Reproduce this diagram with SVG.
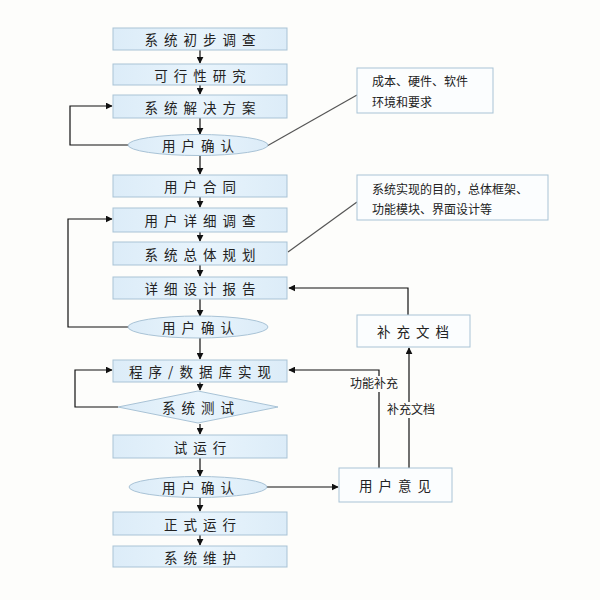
<svg xmlns="http://www.w3.org/2000/svg" width="600" height="600" viewBox="0 0 600 600">
<defs>
<linearGradient id="bg" x1="0" y1="0" x2="1" y2="0">
<stop offset="0" stop-color="#dcecf8"/><stop offset="0.5" stop-color="#e8f4fc"/><stop offset="1" stop-color="#dcecf8"/>
</linearGradient>
<marker id="ah" viewBox="0 0 10 10" refX="9" refY="5" markerWidth="7" markerHeight="7" markerUnits="userSpaceOnUse" orient="auto">
<path d="M0,0 L10,5 L0,10 z" fill="#111"/>
</marker>
</defs>
<style>
.box{fill:url(#bg);stroke:#a9c3d6;stroke-width:1}
.wbox{fill:#fbfdfe;stroke:#a9c3d6;stroke-width:1}
.t{font-family:"Noto Sans CJK SC","Noto Sans",sans-serif;font-size:13.5px;fill:#222;letter-spacing:6px;text-anchor:middle;dominant-baseline:central}
.n{font-family:"Noto Sans CJK SC","Noto Sans",sans-serif;font-size:12px;fill:#222}
.c{fill:none;stroke:#111;stroke-width:1.2}
.a{fill:none;stroke:#111;stroke-width:1.2;marker-end:url(#ah)}
.g{fill:none;stroke:#555;stroke-width:1.2}
</style>
<rect width="600" height="600" fill="#fdfdfb"/>

<g id="connectors">
<line class="a" x1="200" y1="50" x2="200" y2="63"/>
<line class="a" x1="200" y1="85" x2="200" y2="94"/>
<line class="a" x1="200" y1="118" x2="200" y2="134"/>
<line class="a" x1="200" y1="155" x2="200" y2="174"/>
<line class="a" x1="200" y1="197" x2="200" y2="207"/>
<line class="a" x1="200" y1="232" x2="200" y2="241"/>
<line class="a" x1="200" y1="265" x2="200" y2="276"/>
<line class="a" x1="200" y1="299" x2="200" y2="316"/>
<line class="a" x1="200" y1="338" x2="200" y2="359"/>
<line class="a" x1="200" y1="382" x2="200" y2="390"/>
<line class="a" x1="200" y1="424" x2="200" y2="434"/>
<line class="a" x1="200" y1="458" x2="200" y2="476"/>
<line class="a" x1="200" y1="498" x2="200" y2="511"/>
<line class="a" x1="200" y1="535" x2="200" y2="545"/>
<polyline class="a" points="129,145 70,145 70,106 112,106"/>
<polyline class="a" points="129,327 68,327 68,219 112,219"/>
<polyline class="a" points="118,407 75,407 75,370 112,370"/>
<line class="g" x1="267" y1="146" x2="357" y2="95"/>
<line class="g" x1="288" y1="252" x2="357" y2="202"/>
<polyline class="a" points="408,315 408,288 289,288"/>
<line class="a" x1="267" y1="487" x2="338" y2="487"/>
<polyline class="a" points="379,468 379,370 289,370"/>
<line class="a" x1="409" y1="468" x2="409" y2="348"/>
<rect x="347" y="376" width="54" height="16" fill="#fdfdfb"/>
<text class="n" x="374" y="388" text-anchor="middle">功能补充</text>
<rect x="385" y="402" width="52" height="16" fill="#fdfdfb"/>
<text class="n" x="411" y="414" text-anchor="middle">补充文档</text>
</g>

<g id="n1"><rect class="box" x="113" y="28" width="174" height="22"/><text class="t" x="203" y="39">系统初步调查</text></g>
<g id="n2"><rect class="box" x="113" y="64" width="174" height="21"/><text class="t" x="203" y="74.5">可行性研究</text></g>
<g id="n3"><rect class="box" x="113" y="95" width="174" height="23"/><text class="t" x="203" y="106.5">系统解决方案</text></g>
<g id="n4"><ellipse class="box" cx="198" cy="145" rx="70" ry="10.5"/><text class="t" x="201" y="145">用户确认</text></g>
<g id="n5"><rect class="box" x="113" y="175" width="174" height="22"/><text class="t" x="203" y="186">用户合同</text></g>
<g id="n6"><rect class="box" x="113" y="208" width="174" height="24"/><text class="t" x="203" y="220">用户详细调查</text></g>
<g id="n7"><rect class="box" x="113" y="242" width="174" height="23"/><text class="t" x="203" y="253.5">系统总体规划</text></g>
<g id="n8"><rect class="box" x="113" y="277" width="174" height="22"/><text class="t" x="203" y="288">详细设计报告</text></g>
<g id="n9"><ellipse class="box" cx="198" cy="327" rx="70" ry="11"/><text class="t" x="201" y="327">用户确认</text></g>
<g id="n10"><rect class="box" x="113" y="360" width="174" height="22"/><text class="t" x="203" y="371">程序/数据库实现</text></g>
<g id="n11"><polygon class="box" points="118,407 198,391 278,407 198,423"/><text class="t" x="201" y="407">系统测试</text></g>
<g id="n12"><rect class="box" x="113" y="435" width="174" height="23"/><text class="t" x="203" y="446.5">试运行</text></g>
<g id="n13"><ellipse class="box" cx="198" cy="487" rx="69" ry="10.5"/><text class="t" x="201" y="487">用户确认</text></g>
<g id="n14"><rect class="box" x="113" y="512" width="174" height="23"/><text class="t" x="203" y="523.5">正式运行</text></g>
<g id="n15"><rect class="box" x="113" y="546" width="174" height="21"/><text class="t" x="203" y="556.5">系统维护</text></g>
<g id="n16"><rect class="wbox" x="357" y="68" width="136" height="45"/><text class="n" x="372" y="86">成本、硬件、软件</text><text class="n" x="372" y="107">环境和要求</text></g>
<g id="n17"><rect class="wbox" x="357" y="175" width="191" height="45"/><text class="n" x="372" y="194">系统实现的目的，总体框架、</text><text class="n" x="372" y="214">功能模块、界面设计等</text></g>
<g id="n18"><rect class="wbox" x="357" y="315" width="113" height="32"/><text class="t" x="416" y="331">补充文档</text></g>
<g id="n19"><rect class="wbox" x="339" y="468" width="113" height="34"/><text class="t" x="398" y="485">用户意见</text></g>
</svg>
